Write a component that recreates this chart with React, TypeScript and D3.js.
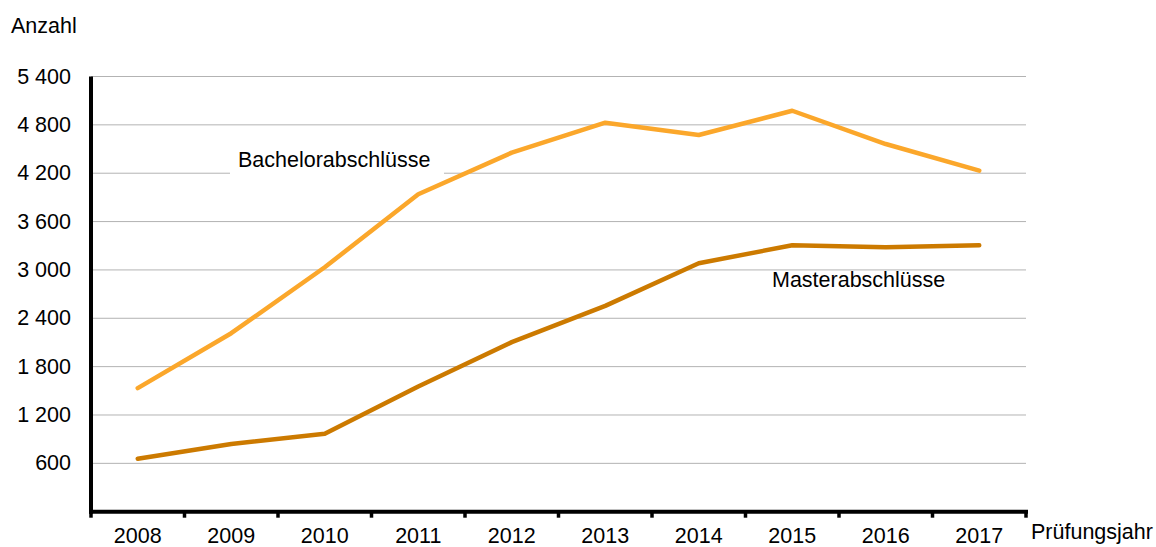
// Line chart: Bachelor- und Masterabschlüsse nach Prüfungsjahr
import React, { useEffect, useRef } from "react";
import * as d3 from "d3";

const years = ["2008", "2009", "2010", "2011", "2012", "2013", "2014", "2015", "2016", "2017"];
const bachelor = [1534, 2215, 3033, 3939, 4455, 4827, 4674, 4975, 4562, 4232];
const master = [657, 839, 967, 1553, 2104, 2554, 3083, 3306, 3281, 3306];
const yTicks = [600, 1200, 1800, 2400, 3000, 3600, 4200, 4800, 5400];

const width = 1156;
const height = 547;
const font = "'Liberation Sans', Arial, sans-serif";

export default function App() {
  const ref = useRef<SVGSVGElement>(null);

  useEffect(() => {
    const svg = d3.select(ref.current);
    svg.selectAll("*").remove();

    const left = 91;
    const right = 1026;
    const top = 76.5;
    const bottom = 511.7;

    const x = d3.scaleBand().domain(years).range([left, right]);
    const y = d3.scaleLinear().domain([0, 5400]).range([bottom, top]);
    const fmt = d3.formatLocale({ decimal: ",", thousands: "\u00a0", grouping: [3], currency: ["", " €"] }).format(",d");

    //Gridlines
    svg
      .append("g")
      .selectAll("line")
      .data(yTicks)
      .enter()
      .append("line")
      .attr("x1", left)
      .attr("x2", right)
      .attr("y1", d => y(d))
      .attr("y2", d => y(d))
      .attr("stroke", "#b3b3b3")
      .attr("stroke-width", 1);

    //Y tick labels
    svg
      .append("g")
      .selectAll("text")
      .data(yTicks)
      .enter()
      .append("text")
      .attr("x", 71)
      .attr("y", d => y(d) + 7)
      .attr("text-anchor", "end")
      .attr("font-family", font)
      .attr("font-size", 21.5)
      .attr("fill", "#000")
      .text(d => fmt(d));

    //Label for Bachelor with white background over the gridline
    svg
      .append("rect")
      .attr("x", 230)
      .attr("y", 148)
      .attr("width", 214)
      .attr("height", 30)
      .attr("fill", "#fff");
    svg
      .append("text")
      .attr("x", 238)
      .attr("y", 167.3)
      .attr("font-family", font)
      .attr("font-size", 21.5)
      .text("Bachelorabschlüsse");

    svg
      .append("text")
      .attr("x", 772)
      .attr("y", 286.7)
      .attr("font-family", font)
      .attr("font-size", 21.5)
      .text("Masterabschlüsse");

    //Lines
    const line = d3
      .line<number>()
      .x((d, i) => (x(years[i]) as number) + x.bandwidth() / 2)
      .y(d => y(d));

    [
      { values: bachelor, color: "#fba72b" },
      { values: master, color: "#cc7a00" }
    ].forEach(s => {
      svg
        .append("path")
        .datum(s.values)
        .attr("d", line)
        .attr("fill", "none")
        .attr("stroke", s.color)
        .attr("stroke-width", 4.5)
        .attr("stroke-linecap", "round")
        .attr("stroke-linejoin", "round");
    });

    //Axes
    svg
      .append("line")
      .attr("x1", left)
      .attr("x2", left)
      .attr("y1", top)
      .attr("y2", bottom + 2)
      .attr("stroke", "#000")
      .attr("stroke-width", 4);
    svg
      .append("line")
      .attr("x1", left - 2)
      .attr("x2", right + 2)
      .attr("y1", bottom)
      .attr("y2", bottom)
      .attr("stroke", "#000")
      .attr("stroke-width", 4);

    const tickPos = years.map(yr => x(yr) as number).concat([right]);
    svg
      .append("g")
      .selectAll("line")
      .data(tickPos)
      .enter()
      .append("line")
      .attr("x1", d => d)
      .attr("x2", d => d)
      .attr("y1", bottom)
      .attr("y2", bottom + 6)
      .attr("stroke", "#000")
      .attr("stroke-width", 3.5);

    //X tick labels
    svg
      .append("g")
      .selectAll("text")
      .data(years)
      .enter()
      .append("text")
      .attr("x", d => (x(d) as number) + x.bandwidth() / 2)
      .attr("y", 543)
      .attr("text-anchor", "middle")
      .attr("font-family", font)
      .attr("font-size", 21.5)
      .text(d => d);

    //Axis titles
    svg
      .append("text")
      .attr("x", 11)
      .attr("y", 33.3)
      .attr("font-family", font)
      .attr("font-size", 21.5)
      .text("Anzahl");
    svg
      .append("text")
      .attr("x", 1031)
      .attr("y", 538.7)
      .attr("font-family", font)
      .attr("font-size", 21.5)
      .text("Prüfungsjahr");
  }, []);

  return (
    <div style={{ position: "absolute", left: 0, top: 0 }}>
      <svg ref={ref} width={width} height={height} style={{ display: "block", background: "#fff" }} />
    </div>
  );
}
